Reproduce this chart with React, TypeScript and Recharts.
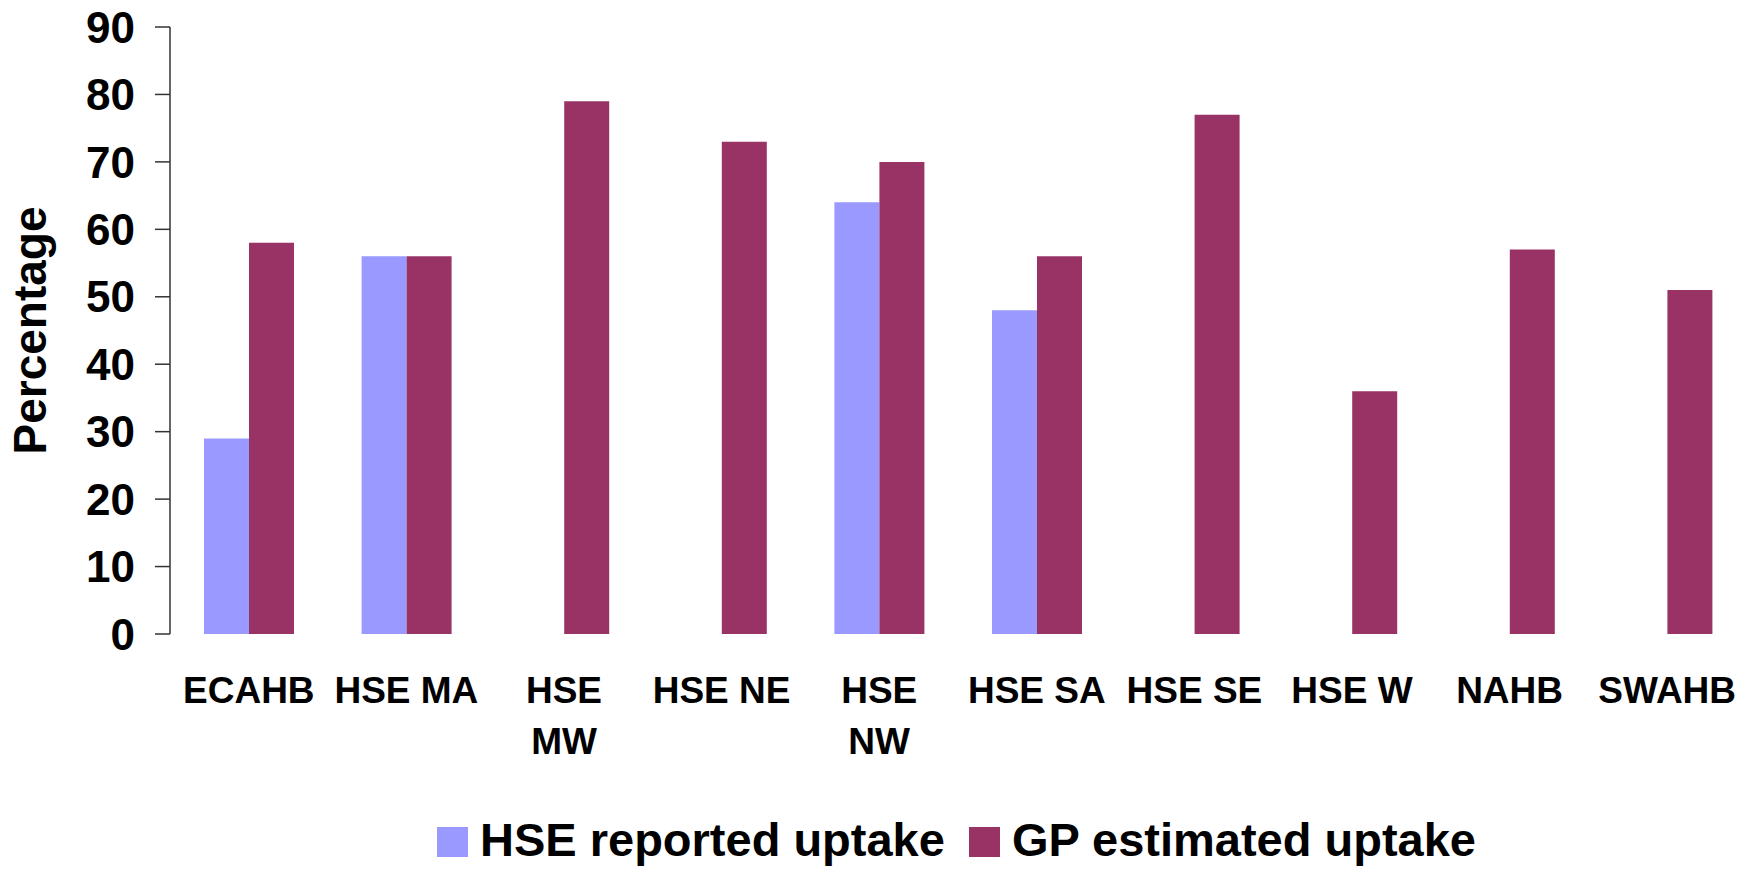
import React from 'react';
import { BarChart, Bar, XAxis, YAxis, Legend } from 'recharts';

const categories = ['ECAHB', 'HSE MA', 'HSE MW', 'HSE NE', 'HSE NW', 'HSE SA', 'HSE SE', 'HSE W', 'NAHB', 'SWAHB'];
const tickLines = [['ECAHB'], ['HSE MA'], ['HSE', 'MW'], ['HSE NE'], ['HSE', 'NW'], ['HSE SA'], ['HSE SE'], ['HSE W'], ['NAHB'], ['SWAHB']];
const hseReported = [29, 56, null, null, 64, 48, null, null, null, null];
const gpEstimated = [58, 56, 79, 73, 70, 56, 77, 36, 57, 51];
const yTicks = [0, 10, 20, 30, 40, 50, 60, 70, 80, 90];
const seriesNames = ['HSE reported uptake', 'GP estimated uptake'];
const seriesColors = ['#9999FF', '#993366'];

const data = categories.map((c, i) => ({ name: c, hse: hseReported[i], gp: gpEstimated[i] }));

const FONT = '"Liberation Sans", Arial, Helvetica, sans-serif';

const XTick = (props: any) => {
  const { x, y, payload } = props;
  const idx = categories.indexOf(payload.value);
  const lines = idx >= 0 ? tickLines[idx] : [String(payload.value)];
  return (
    <text x={x} y={y} textAnchor="middle" fontFamily={FONT} fontSize={37} fontWeight="bold" fill="#000">
      {lines.map((l, i) => (
        <tspan key={i} x={x} dy={i === 0 ? 69 : 51}>{l}</tspan>
      ))}
    </text>
  );
};

const renderLegend = () => (
  <div style={{ display: 'flex', alignItems: 'flex-start', fontFamily: FONT, fontWeight: 'bold', fontSize: 47, lineHeight: '54px', color: '#000', paddingLeft: 437, whiteSpace: 'nowrap' }}>
    {seriesNames.map((n, i) => (
      <div key={n} style={{ display: 'flex', alignItems: 'flex-start', marginRight: 24 }}>
        <div style={{ width: 31, height: 30, background: seriesColors[i], marginTop: 14, marginRight: 12 }} />
        <span>{n}</span>
      </div>
    ))}
  </div>
);

export default function App() {
  return (
    <div style={{ position: 'absolute', left: 0, top: 0, width: 1752, height: 870, background: '#fff', overflow: 'hidden' }}>
      <BarChart width={1752} height={870} data={data} margin={{ top: 27, right: 6, bottom: 0, left: 0 }} barGap={0} barSize={45}>
        <XAxis dataKey="name" height={236} axisLine={false} tickLine={false} tickSize={0} tickMargin={0} tick={<XTick />} interval={0} />
        <YAxis
          width={170}
          domain={[0, 90]}
          ticks={yTicks}
          interval={0}
          tickSize={15}
          tickMargin={20}
          axisLine={{ stroke: '#333', strokeWidth: 1.5 }}
          tickLine={{ stroke: '#333', strokeWidth: 1.5 }}
          tick={{ fontFamily: FONT, fontSize: 44, fontWeight: 'bold', fill: '#000' }}
          label={{ value: 'Percentage', angle: -90, position: 'insideLeft', offset: 30, style: { textAnchor: 'middle', fontFamily: FONT, fontSize: 46, fontWeight: 'bold', fill: '#000' } }}
        />
        <Legend layout="horizontal" verticalAlign="middle" align="center" content={renderLegend} wrapperStyle={{ left: 0, top: 813, width: 1752 }} />
        <Bar dataKey="hse" name={seriesNames[0]} fill={seriesColors[0]} isAnimationActive={false} />
        <Bar dataKey="gp" name={seriesNames[1]} fill={seriesColors[1]} isAnimationActive={false} />
      </BarChart>
    </div>
  );
}
